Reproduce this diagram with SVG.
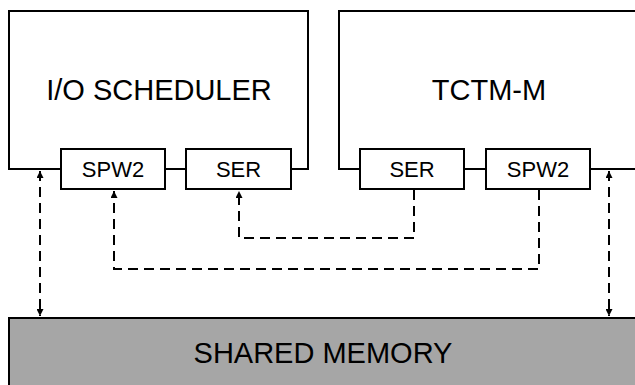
<svg xmlns="http://www.w3.org/2000/svg" width="635" height="385" viewBox="0 0 635 385">
<style>
.box{fill:#fff;stroke:#000;stroke-width:2}
.line{fill:none;stroke:#000;stroke-width:2}
.dash{fill:none;stroke:#000;stroke-width:2;stroke-dasharray:10,6}
text{font-family:"Liberation Sans",Arial,sans-serif;fill:#000;text-anchor:middle}
.big{font-size:29px}
.small{font-size:22px}
</style>
<defs>
<marker id="ah" viewBox="0 0 10 10" refX="10" refY="5" markerWidth="8" markerHeight="7" markerUnits="userSpaceOnUse" orient="auto-start-reverse">
<path d="M0,0 L10,5 L0,10 z" fill="#000"/>
</marker>
</defs>
<g id="io-scheduler">
<polyline class="line" points="61,169 9,169 9,11 308,11 308,169 291,169"/>
<line class="line" x1="165" y1="169" x2="186" y2="169"/>
<text class="big" x="159" y="100">I/O SCHEDULER</text>
</g>
<g id="tctm-m">
<polyline class="line" points="360,169 339,169 339,11 640,11"/>
<line class="line" x1="464" y1="169" x2="486" y2="169"/>
<line class="line" x1="590" y1="169" x2="640" y2="169"/>
<text class="big" x="489" y="100">TCTM-M</text>
</g>
<g id="io-spw2">
<rect class="box" x="61" y="149" width="104" height="40"/>
<text class="small" x="113" y="177">SPW2</text>
</g>
<g id="io-ser">
<rect class="box" x="186" y="149" width="105" height="40"/>
<text class="small" x="238.5" y="177">SER</text>
</g>
<g id="tctm-ser">
<rect class="box" x="360" y="149" width="104" height="40"/>
<text class="small" x="412" y="177">SER</text>
</g>
<g id="tctm-spw2">
<rect class="box" x="486" y="149" width="104" height="40"/>
<text class="small" x="538" y="177">SPW2</text>
</g>
<g id="shared-memory">
<rect x="9" y="318" width="640" height="80" fill="#a6a6a6" stroke="#000" stroke-width="2"/>
<text class="big" x="323" y="363">SHARED MEMORY</text>
</g>
<g id="connectors">
<line class="dash" x1="40" y1="171" x2="40" y2="316" marker-start="url(#ah)" marker-end="url(#ah)"/>
<line class="dash" x1="609" y1="171" x2="609" y2="316" marker-start="url(#ah)" marker-end="url(#ah)"/>
<polyline class="dash" points="414,190 414,238 239,238 239,191" marker-end="url(#ah)"/>
<polyline class="dash" points="539,190 539,269 114,269 114,191" marker-end="url(#ah)"/>
</g>
</svg>
